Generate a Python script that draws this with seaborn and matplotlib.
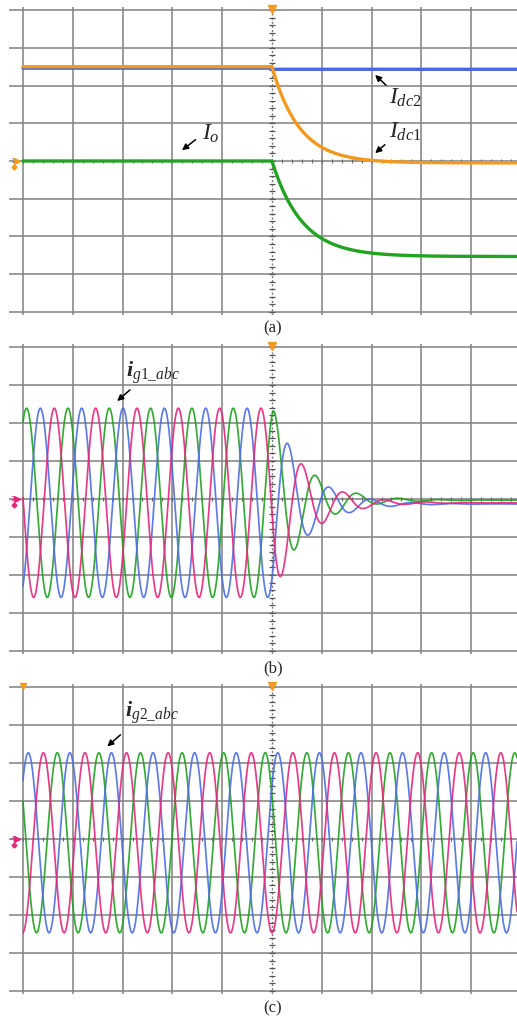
import matplotlib.pyplot as plt
import numpy as np
import seaborn as sns

sns.set_style('white')
plt.rcParams['font.family'] = ['Liberation Serif', 'DejaVu Sans']
plt.rcParams['mathtext.fontset'] = 'custom'
plt.rcParams['mathtext.rm'] = 'Liberation Serif'
plt.rcParams['mathtext.it'] = 'Liberation Serif:italic'
plt.rcParams['mathtext.bf'] = 'Liberation Serif:italic:bold'

# everything in scope divisions
step_t = 5.0                      # load step at the centre line
t = np.linspace(0, 9.92, 4000)

# (a) dc side currents: level before step, level after step, time constant
idc1_lv = [2.50, -0.05]
idc2_lv = [2.46, 2.43]
io_lv = [0.0, -2.53]
tau_a = {'idc1': 0.55, 'idc2': 0.55, 'io': 0.60}

# (b) grid currents of converter 1 (green, blue, pink)
g1_amp = 2.49
g1_center = -0.10
g1_period = 0.83
g1_peak_t = [0.073, 0.35, 0.63]
g1_final = [-0.03, -0.13, -0.10]
g1_tau = 0.65

# (c) grid currents of converter 2 (green, blue, pink)
g2_amp = 2.37
g2_center = -0.10
g2_period = 0.835
g2_peak_t = [0.69, 0.107, 0.41]

ph_colors = ['#23a023', '#4d6ee0', '#e2287c']
c_orange = '#f29a20'
c_blue = '#4468e0'
c_green = '#22a322'


def scope_grid(ax):
    ax.set_xlim(-0.28, 9.92)
    ax.set_ylim(-4.08, 4.08)
    ax.set_xticks([0, 1, 2, 3, 4, 6, 7, 8, 9])
    ax.set_yticks(range(-4, 5))
    ax.set_axisbelow(True)
    ax.grid(True, color='#858585', lw=1.15)
    ax.tick_params(length=0, labelbottom=False, labelleft=False)
    for s in ax.spines.values():
        s.set_visible(False)
    ax.axvline(5, color='#777777', lw=1.0, ls=(0, (1.5, 1.5)), zorder=1)
    tk = np.arange(-4, 4.01, 0.2)
    ax.plot(np.full_like(tk, 5), tk, ls='none', marker='_', ms=4, mew=0.9, color='#555555', zorder=1)
    tx = np.arange(0, 9.9, 0.2)
    ax.plot(tx, np.zeros_like(tx), ls='none', marker='|', ms=3, mew=0.8, color='#666666', zorder=1)
    ax.plot([5], [4.02], marker='v', ms=6, color=c_orange, clip_on=False, zorder=5)


def step(before, after, tau):
    y = np.full_like(t, before)
    m = t >= step_t
    y[m] = after + (before - after) * np.exp(-(t[m] - step_t) / tau)
    return y


arrow = dict(arrowstyle='-|>', color='black', lw=1.1, mutation_scale=9)

fig = plt.figure(figsize=(5.17, 10.17), dpi=100)
ax1 = fig.add_axes([9/517, 1-315/1017, 508/517, 308/1017])
ax2 = fig.add_axes([9/517, 1-654/1017, 508/517, 310/1017])
ax3 = fig.add_axes([9/517, 1-994/1017, 508/517, 310/1017])
for ax in (ax1, ax2, ax3):
    scope_grid(ax)

# ---- (a)
io = step(io_lv[0], io_lv[1], tau_a['io'])
idc2 = np.where(t < step_t, idc2_lv[0], idc2_lv[1])
idc1 = step(idc1_lv[0], idc1_lv[1], tau_a['idc1'])
sns.lineplot(x=t, y=io, ax=ax1, color=c_green, lw=2.4, sort=False, estimator=None)
sns.lineplot(x=t, y=idc2, ax=ax1, color=c_blue, lw=2.4, sort=False, estimator=None)
sns.lineplot(x=t, y=idc1, ax=ax1, color=c_orange, lw=2.4, sort=False, estimator=None)

ax1.text(7.35, 1.67, r'$I_{dc2}$', fontsize=17, va='center')
ax1.annotate('', xy=(7.03, 2.33), xytext=(7.33, 1.96), arrowprops=arrow)
ax1.text(7.35, 0.77, r'$I_{dc1}$', fontsize=17, va='center')
ax1.annotate('', xy=(7.03, 0.16), xytext=(7.31, 0.48), arrowprops=arrow)
ax1.text(3.6, 0.72, r'$I_o$', fontsize=17, va='center')
ax1.annotate('', xy=(3.15, 0.24), xytext=(3.51, 0.61), arrowprops=arrow)
ax1.text(-0.25, 0.0, '1', fontsize=5, color='#6a8ad0', va='center', family='DejaVu Sans')
ax1.plot([-0.12], [0.0], marker='>', ms=4, color=c_orange, clip_on=False)
ax1.plot([-0.17], [-0.15], marker='D', ms=2.5, color=c_orange, clip_on=False)

# ---- (b)
env = np.where(t < step_t + 0.02, 1.0, np.exp(-(t - step_t - 0.02) / g1_tau))
for k in range(3):
    base = np.where(t < step_t, g1_center,
                    g1_final[k] + (g1_center - g1_final[k]) * env)
    y = base + g1_amp * env * np.cos(2 * np.pi * (t - g1_peak_t[k]) / g1_period)
    sns.lineplot(x=t, y=y, ax=ax2, color=ph_colors[k], lw=1.25, alpha=0.9,
                 sort=False, estimator=None)
ax2.text(2.07, 3.32, r'$\mathbf{i}_{g1\_abc}$', fontsize=16, va='center')
ax2.annotate('', xy=(1.85, 2.53), xytext=(2.19, 2.92), arrowprops=arrow)
ax2.text(-0.25, 0.0, '2', fontsize=5, color=ph_colors[2], va='center', family='DejaVu Sans')
ax2.plot([-0.12], [0.0], marker='>', ms=4, color=ph_colors[2], clip_on=False)
ax2.plot([-0.17], [-0.15], marker='D', ms=2.5, color=ph_colors[2], clip_on=False)

# ---- (c)
for k in range(3):
    y = g2_center + g2_amp * np.cos(2 * np.pi * (t - g2_peak_t[k]) / g2_period)
    sns.lineplot(x=t, y=y, ax=ax3, color=ph_colors[k], lw=1.25, alpha=0.9,
                 sort=False, estimator=None)
ax3.text(2.05, 3.32, r'$\mathbf{i}_{g2\_abc}$', fontsize=16, va='center')
ax3.annotate('', xy=(1.65, 2.39), xytext=(2.0, 2.79), arrowprops=arrow)
ax3.text(-0.25, 0.0, '4', fontsize=5, color=ph_colors[2], va='center', family='DejaVu Sans')
ax3.plot([-0.12], [0.0], marker='>', ms=4, color=ph_colors[2], clip_on=False)
ax3.plot([-0.17], [-0.15], marker='D', ms=2.5, color=ph_colors[2], clip_on=False)
ax3.plot([0], [4.02], marker='v', ms=5, color=c_orange, clip_on=False, zorder=5)

for lab, py in [('(a)', 328), ('(b)', 668), ('(c)', 1008)]:
    fig.text(273/517, 1 - py/1017, lab, ha='center', va='center', fontsize=12)

fig.savefig('out.png', dpi=100)
